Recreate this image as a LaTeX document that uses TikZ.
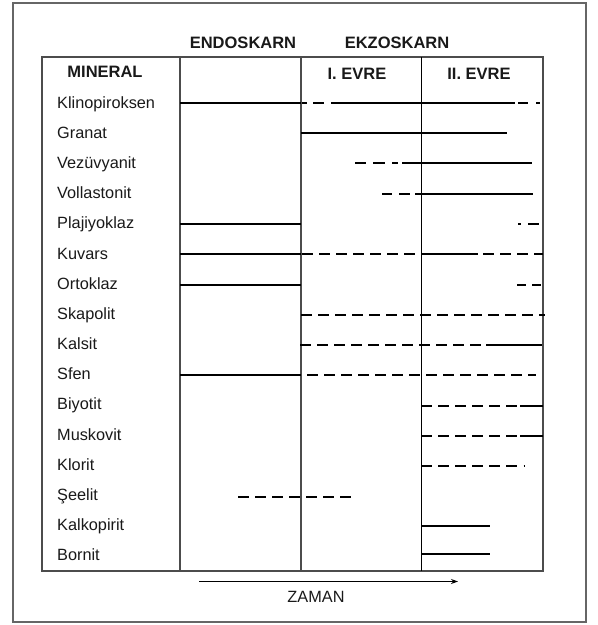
\documentclass[tikz,border=0pt]{standalone}
\usepackage{fontspec}
\setmainfont{Liberation Sans}
\usetikzlibrary{arrows.meta}
\tikzset{
  frame/.style={draw=black!60, line width=1.3pt},
  grid/.style={draw=black!70, line width=1.2pt},
  lbl/.style={anchor=base west, inner sep=0pt, font=\fontsize{16.3}{18}\selectfont, text=black!90},
  hdr/.style={inner sep=0pt, font=\bfseries\fontsize{16.5}{20}\selectfont, text=black!90},
  sol/.style={line width=2pt},
  dsh/.style={line width=2pt, dash pattern=on 11pt off 6pt},
}
\begin{document}
\begin{tikzpicture}[x=1pt,y=-1pt]
\useasboundingbox (0,0) rectangle (598,625);
% outer frame
\draw[frame] (13,3) rectangle (586,622);
% table
\draw[grid] (42,57) rectangle (543,571);
\draw[grid] (180,57) -- (180,571);
\draw[grid] (301,57) -- (301,571);
\draw[line width=1pt] (421.5,57) -- (421.5,571);
% headers
\node[hdr] (endo) at (243,43) {ENDOSKARN};
\node[hdr] (ekzo) at (397,43) {EKZOSKARN};
\node[hdr] (min) at (105,72) {MINERAL};
\node[hdr] (ev1) at (357,74) {I. EVRE};
\node[hdr] (ev2) at (479,74) {II. EVRE};
% labels
\node[lbl] (l1) at (57,108.5) {Klinopiroksen};
\node[lbl] (l2) at (57,138.5) {Granat};
\node[lbl] (l3) at (57,168.5) {Vezüvyanit};
\node[lbl] (l4) at (57,198.5) {Vollastonit};
\node[lbl] (l5) at (57,228.5) {Plajiyoklaz};
\node[lbl] (l6) at (57,259.0) {Kuvars};
\node[lbl] (l7) at (57,289.0) {Ortoklaz};
\node[lbl] (l8) at (57,319.0) {Skapolit};
\node[lbl] (l9) at (57,349.5) {Kalsit};
\node[lbl] (l10) at (57,379.5) {Sfen};
\node[lbl] (l11) at (57,409.5) {Biyotit};
\node[lbl] (l12) at (57,440.0) {Muskovit};
\node[lbl] (l13) at (57,470.0) {Klorit};
\node[lbl] (l14) at (57,500.0) {Şeelit};
\node[lbl] (l15) at (57,530.0) {Kalkopirit};
\node[lbl] (l16) at (57,560.0) {Bornit};
% Klinopiroksen
\draw[sol] (180,103) -- (301,103);
\draw[sol] (302,103) -- (307,103) (313,103) -- (324,103) (331,103) -- (515,103) (518,103) -- (528,103) (536,103) -- (540,103);
% Granat
\draw[sol] (301,133) -- (507,133);
% Vezuvyanit
\draw[sol] (355,163) -- (366,163) (373,163) -- (385,163) (392,163) -- (398,163) (402,163) -- (532,163);
% Vollastonit
\draw[sol] (382,194) -- (392,194) (399,194) -- (410,194) (415,194) -- (533,194);
% Plajiyoklaz
\draw[sol] (180,224) -- (301,224);
\draw[sol] (518,224) -- (521,224) (528,224) -- (539,224);
% Kuvars
\draw[sol] (180,254) -- (301,254);
\draw[dsh] (302,254) -- (421,254);
\draw[sol] (421,254) -- (478,254);
\draw[dsh] (483,254) -- (543,254);
% Ortoklaz
\draw[sol] (180,285) -- (301,285);
\draw[sol] (517,285) -- (526,285) (532,285) -- (541,285);
% Skapolit
\draw[dsh] (301,315) -- (545,315);
% Kalsit
\draw[dsh] (300,345) -- (484,345);
\draw[sol] (486,345) -- (542,345);
% Sfen
\draw[sol] (180,375) -- (301,375);
\draw[dsh] (307,375) -- (536,375);
% Biyotit
\draw[dsh] (421,406) -- (520,406);
\draw[sol] (520,406) -- (543,406);
% Muskovit
\draw[dsh] (421,436) -- (520,436);
\draw[sol] (520,436) -- (543,436);
% Klorit
\draw[dsh] (421,466) -- (517,466);
\draw[sol] (523.5,466) -- (525,466);
% Seelit
\draw[dsh] (238,497) -- (351,497);
% Kalkopirit, Bornit
\draw[sol] (421,526) -- (490,526);
\draw[sol] (421,554) -- (490,554);
% time arrow
\coordinate (t0) at (199,581.5);
\coordinate (t1) at (458,581.5);
\draw[line width=1pt, -{Stealth[length=7pt,width=5pt]}] (t0) -- (t1);
\node[inner sep=0pt, font=\fontsize{16.3}{18}\selectfont, text=black!90] (zaman) at (316,597) {ZAMAN};
\end{tikzpicture}
\end{document}
